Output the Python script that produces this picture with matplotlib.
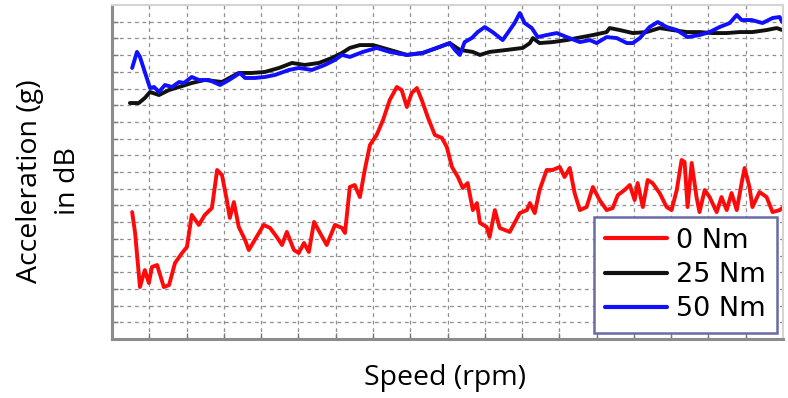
import matplotlib
matplotlib.use("Agg")
import matplotlib.pyplot as plt
import numpy as np

# speed axis in grid divisions (0..18), level in dB grid divisions (0..20)
speed_0nm = [0.54, 0.62, 0.75, 0.88, 0.99, 1.07, 1.21, 1.39, 1.53, 1.69, 1.88, 2.01,
             2.14, 2.33, 2.49, 2.68, 2.82, 2.95, 3.08, 3.16, 3.27, 3.40, 3.57, 3.67,
             3.83, 4.07, 4.24, 4.42, 4.56, 4.69, 4.88, 5.01, 5.15, 5.28, 5.42, 5.58,
             5.76, 5.98, 6.17, 6.25, 6.38, 6.51, 6.65, 6.78, 6.92, 7.10, 7.27, 7.45,
             7.64, 7.77, 7.91, 8.04, 8.18, 8.31, 8.47, 8.66, 8.85, 8.98, 9.12, 9.28,
             9.41, 9.54, 9.68, 9.79, 9.87, 10.05, 10.13, 10.27, 10.40, 10.67, 10.94,
             11.13, 11.21, 11.34, 11.47, 11.66, 11.82, 12.01, 12.14, 12.28, 12.41,
             12.55, 12.73, 12.90, 13.08, 13.27, 13.43, 13.57, 13.75, 13.89, 14.02,
             14.10, 14.24, 14.37, 14.50, 14.69, 14.88, 15.01, 15.15, 15.28, 15.36,
             15.44, 15.55, 15.68, 15.76, 15.90, 16.03, 16.22, 16.35, 16.49, 16.62,
             16.76, 16.89, 16.97, 17.10, 17.18, 17.37, 17.56, 17.72, 17.91, 17.98]
level_0nm = [7.60, 6.35, 3.11, 4.13, 3.35, 4.31, 4.43, 3.11, 3.23, 4.55, 5.15, 5.51,
             7.43, 6.83, 7.43, 7.84, 10.12, 9.82, 8.32, 7.25, 8.20, 6.71, 5.93, 5.33,
             5.93, 6.83, 6.65, 6.11, 5.63, 6.41, 5.33, 5.15, 5.75, 5.21, 7.01, 6.35,
             5.63, 6.83, 6.65, 6.35, 9.10, 9.22, 8.50, 10.12, 11.62, 12.22, 13.11, 14.31,
             15.09, 14.91, 13.89, 14.73, 15.03, 14.31, 13.29, 12.22, 12.04, 11.50, 10.30, 9.70,
             9.04, 9.34, 7.72, 8.14, 6.95, 6.71, 6.11, 7.72, 6.65, 6.41, 7.54,
             7.72, 8.14, 7.54, 8.92, 10.12, 10.12, 10.30, 9.70, 10.24, 8.74,
             7.72, 7.90, 9.10, 8.32, 7.72, 7.84, 8.62, 8.92, 9.22, 8.32,
             9.34, 7.90, 9.52, 9.34, 8.74, 7.90, 7.72, 8.92, 10.72, 10.60,
             7.90, 10.54, 8.50, 7.60, 8.92, 8.50, 7.60, 8.50, 7.72, 8.74,
             7.72, 9.34, 10.24, 9.10, 7.90, 8.80, 8.50, 7.60, 7.72, 7.84]

speed_25nm = [0.48, 0.72, 0.88, 1.02, 1.26, 1.53, 1.80, 2.14, 2.49, 2.95, 3.40, 3.75,
              4.10, 4.48, 4.83, 5.17, 5.55, 5.90, 6.17, 6.38, 6.65, 7.00, 7.27, 7.64,
              7.91, 8.34, 8.79, 9.06, 9.33, 9.68, 9.87, 10.13, 10.59, 11.02, 11.21,
              11.29, 11.47, 11.82, 12.20, 12.47, 12.90, 13.27, 13.35, 13.62, 13.97,
              14.34, 14.69, 15.04, 15.42, 15.76, 16.11, 16.49, 16.84, 17.18, 17.56,
              17.83, 17.98]
level_25nm = [14.13, 14.13, 14.43, 14.79, 14.61, 14.91, 15.09, 15.33, 15.51, 15.39, 15.93, 15.93,
              15.99, 16.23, 16.53, 16.41, 16.53, 16.83, 17.13, 17.43, 17.60, 17.60, 17.43, 17.19,
              17.01, 17.13, 17.49, 17.72, 17.31, 17.19, 17.01, 17.19, 17.31, 17.43, 17.72,
              18.02, 17.72, 17.78, 17.90, 18.02, 18.20, 18.38, 18.62, 18.50, 18.32,
              18.38, 18.62, 18.50, 18.38, 18.38, 18.32, 18.32, 18.38, 18.38, 18.50,
              18.62, 18.50]

speed_50nm = [0.54, 0.67, 0.75, 0.88, 1.02, 1.13, 1.26, 1.42, 1.61, 1.80, 1.93, 2.14,
              2.33, 2.60, 2.90, 3.14, 3.35, 3.43, 3.57, 3.83, 4.10, 4.37, 4.75, 5.01,
              5.36, 5.71, 5.98, 6.17, 6.38, 6.73, 7.10, 7.45, 7.91, 8.34, 8.71, 9.06,
              9.20, 9.33, 9.46, 9.65, 9.81, 10.00, 10.21, 10.48, 10.67, 10.80, 10.94,
              11.07, 11.26, 11.42, 11.66, 11.93, 12.20, 12.55, 12.82, 13.00, 13.27,
              13.54, 13.81, 13.97, 14.16, 14.42, 14.64, 14.88, 15.15, 15.44, 15.76,
              16.03, 16.30, 16.57, 16.76, 16.89, 17.16, 17.45, 17.72, 17.91, 17.98]
level_50nm = [16.23, 17.19, 16.89, 15.99, 15.03, 15.09, 14.79, 15.21, 15.09, 15.39, 15.33, 15.69,
              15.51, 15.51, 15.21, 15.51, 15.81, 15.93, 15.63, 15.63, 15.69, 15.81, 16.11, 16.23,
              16.11, 16.41, 16.71, 17.01, 16.89, 17.19, 17.43, 17.19, 17.01, 17.13, 17.43, 17.72,
              17.31, 17.01, 17.78, 18.02, 18.38, 18.68, 18.38, 17.90, 18.50, 18.92, 19.52,
              18.92, 18.62, 18.08, 18.20, 18.32, 18.08, 17.78, 17.90, 17.72, 18.08,
              18.02, 17.72, 17.72, 18.02, 18.68, 18.98, 18.68, 18.50, 18.08, 18.20,
              18.38, 18.68, 18.92, 19.40, 19.10, 19.10, 18.92, 19.22, 19.28, 18.98]

series = [
    ("0 Nm", speed_0nm, level_0nm, "#ff0a0a"),
    ("25 Nm", speed_25nm, level_25nm, "#111111"),
    ("50 Nm", speed_50nm, level_50nm, "#1010ff"),
]

fig = plt.figure(figsize=(7.88, 3.98), dpi=100)
ax = fig.add_axes([112 / 788, 1 - 339 / 398, 671 / 788, 334 / 398])

for label, x, y, color in series:
    ax.plot(x, y, color=color, linewidth=2.8, label=label,
            solid_joinstyle="round", solid_capstyle="round")

ax.set_xlim(0, 18)
ax.set_ylim(0, 20)
ax.set_xticks(np.arange(1, 18))
ax.set_yticks(np.arange(1, 20))
ax.set_xticklabels([])
ax.set_yticklabels([])
ax.tick_params(direction="in", length=4, color="#777777", width=1)
ax.grid(True, color="#8f8f8f", linestyle=(0, (3, 3)), linewidth=0.9)
ax.set_axisbelow(True)

for side in ("left", "bottom"):
    ax.spines[side].set_color("#8c8c8c")
    ax.spines[side].set_linewidth(2.2)
for side in ("top", "right"):
    ax.spines[side].set_color("#d4d4d4")
    ax.spines[side].set_linewidth(1.5)

leg = ax.legend(loc="lower right", bbox_to_anchor=(0.991, 0.018),
                prop={"family": "DejaVu Sans", "size": 19.5},
                frameon=True, fancybox=False, framealpha=1,
                handlelength=2.3, handletextpad=0.35, labelspacing=0.3,
                borderpad=0.4, borderaxespad=0)
leg.get_frame().set_edgecolor("#6a6aa8")
leg.get_frame().set_linewidth(1.8)
for h in leg.get_lines():
    h.set_linewidth(3.0)

fig.text(445 / 788, 1 - 378 / 398, "Speed (rpm)", family="Open Sans",
         fontsize=20.5, ha="center", va="center")
fig.text(30 / 788, 1 - 181 / 398, "Acceleration (g)", family="Open Sans",
         fontsize=20.5, ha="center", va="center", rotation=90)
fig.text(68 / 788, 1 - 181 / 398, "in dB", family="Open Sans",
         fontsize=20.5, ha="center", va="center", rotation=90)

fig.savefig("out.png", dpi=100)
